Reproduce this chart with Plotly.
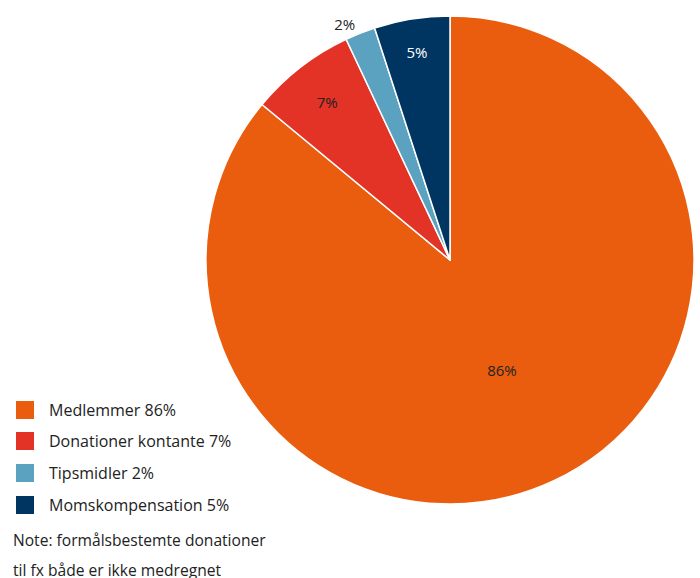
import plotly.graph_objects as go

labels = ["Medlemmer 86%", "Donationer kontante 7%", "Tipsmidler 2%", "Momskompensation 5%"]
values = [86, 7, 2, 5]
slice_text = ["86%", "7%", "2%", "5%"]
colors = ["#EA5D0E", "#E33326", "#5BA1C0", "#003562"]
text_colors = ["#222222", "#222222", "#222222", "#FFFFFF"]
text_positions = ["inside", "inside", "outside", "inside"]
note_lines = ["Note: formålsbestemte donationer", "til fx både er ikke medregnet"]

W, H = 700, 578
cx, cy, r = 450, 260, 244

FONT = "Open Sans"
TXT = "#222222"

fig = go.Figure()
fig.add_trace(go.Pie(
    labels=labels,
    values=values,
    text=slice_text,
    texttemplate="%{text}",
    textposition=text_positions,
    insidetextfont=dict(color=text_colors, size=15, family=FONT),
    outsidetextfont=dict(color=TXT, size=15, family=FONT),
    marker=dict(colors=colors, line=dict(color="white", width=1.5)),
    sort=False,
    direction="clockwise",
    rotation=0,
    insidetextorientation="horizontal",
    domain=dict(x=[(cx - r) / W, (cx + r) / W], y=[1 - (cy + r) / H, 1 - (cy - r) / H]),
    hoverinfo="label+percent",
    showlegend=False,
))

legend_rows = [410, 441, 473, 505]
legend_layout = {}
for i, (lab, col) in enumerate(zip(labels, colors)):
    name = "legend" if i == 0 else f"legend{i + 1}"
    fig.add_trace(go.Scatter(
        x=[None], y=[None], mode="markers", name=lab,
        marker=dict(symbol="square", size=16, color=col, line=dict(color=col, width=2)),
        legend=name, showlegend=True, hoverinfo="skip",
    ))
    legend_layout[name] = dict(
        x=1 / W, y=1 - legend_rows[i] / H, xref="paper", yref="paper",
        xanchor="left", yanchor="middle",
        font=dict(size=16, color=TXT, family=FONT),
        itemwidth=38, bgcolor="rgba(0,0,0,0)",
    )

note_rows = [540, 570]
for j, line in enumerate(note_lines):
    fig.add_annotation(
        text=line,
        x=11 / W, y=1 - note_rows[j] / H, xref="paper", yref="paper",
        xanchor="left", yanchor="middle", align="left", showarrow=False,
        font=dict(size=15.6, color=TXT, family=FONT),
    )

fig.update_layout(
    width=W, height=H,
    margin=dict(l=0, r=0, t=0, b=0, autoexpand=False),
    paper_bgcolor="white",
    plot_bgcolor="white",
    font=dict(family=FONT, size=16, color=TXT),
    xaxis=dict(visible=False),
    yaxis=dict(visible=False),
    **legend_layout,
)

fig.write_html(
    "out.html",
    config={"displayModeBar": False},
    post_script="document.body.style.margin='0';document.body.style.overflow='hidden';",
)
